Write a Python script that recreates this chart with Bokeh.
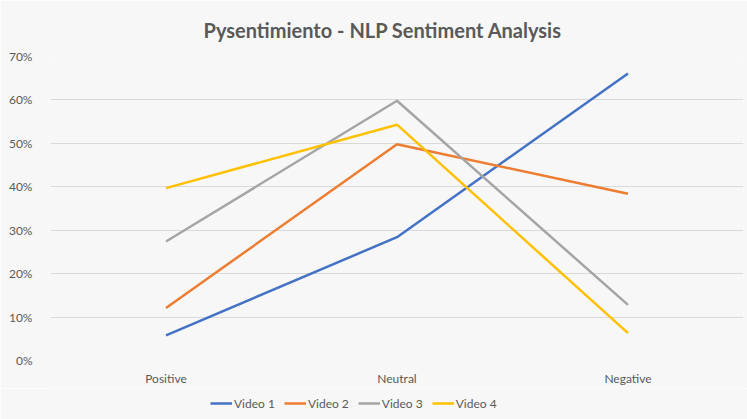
from bokeh.plotting import figure
from bokeh.layouts import column
from bokeh.models import Range1d, NumeralTickFormatter, FixedTicker, Legend, LegendItem, ColumnDataSource
from bokeh.embed import file_html
from bokeh.resources import INLINE

categories = ["Positive", "Neutral", "Negative"]
series_names = ["Video 1", "Video 2", "Video 3", "Video 4"]
video1 = [0.058, 0.284, 0.661]
video2 = [0.121, 0.498, 0.384]
video3 = [0.274, 0.598, 0.128]
video4 = [0.397, 0.543, 0.063]
y_ticks = [0, 0.1, 0.2, 0.3, 0.4, 0.5, 0.6, 0.7]

colors = ["#4472C4", "#ED7D31", "#A5A5A5", "#FFC000"]
font = "Lato"
bg = "#f7f7f7"

p = figure(x_range=categories, y_range=Range1d(0, 0.7),
           width=747, height=388,
           output_backend="svg", toolbar_location=None,
           title="Pysentimiento - NLP Sentiment Analysis")
p.background_fill_color = bg
p.border_fill_color = bg
p.outline_line_color = None
p.min_border_left = 50
p.min_border_right = 4
p.min_border_top = 56
p.min_border_bottom = 28

p.title.align = "left"
p.title.text_font = font
p.title.text_font_size = "20px"
p.title.text_font_style = "bold"
p.title.text_color = "#595959"
p.title.offset = 153
p.title.standoff = 29

# legend strip below the chart (its lines lie outside its visible y range)
p2 = figure(x_range=p.x_range, y_range=Range1d(5, 6), width=747, height=31,
            x_axis_location=None, y_axis_location=None,
            output_backend="svg", toolbar_location=None)
p2.background_fill_color = bg
p2.border_fill_color = bg
p2.outline_line_color = None
p2.min_border = 0
p2.grid.visible = False

items = []
for name, vals, c in zip(series_names, [video1, video2, video3, video4], colors):
    src = ColumnDataSource(dict(x=categories, y=vals))
    p.line("x", "y", source=src, line_color=c, line_width=2.5)
    key = p2.line("x", "y", source=src, line_color=c, line_width=2.5)
    items.append(LegendItem(label=name, renderers=[key]))

p.yaxis.ticker = FixedTicker(ticks=y_ticks)
p.yaxis.formatter = NumeralTickFormatter(format="0%")
for ax in [p.xaxis, p.yaxis]:
    ax.axis_line_color = None
    ax.major_tick_line_color = None
    ax.minor_tick_line_color = None
    ax.major_label_text_font = font
    ax.major_label_text_font_size = "12px"
    ax.major_label_text_color = "#595959"
p.yaxis.major_label_standoff = 12
p.xaxis.major_label_standoff = 4
p.xgrid.grid_line_color = None
p.ygrid.grid_line_color = "#d9d9d9"
p.ygrid.grid_line_width = 1

legend = Legend(items=items, orientation="horizontal", location=(160, 8))
legend.background_fill_alpha = 0
legend.border_line_color = None
legend.label_text_font = font
legend.label_text_font_size = "12px"
legend.label_text_color = "#595959"
legend.glyph_width = 22
legend.glyph_height = 16
legend.label_height = 16
legend.spacing = 9
legend.label_standoff = 2
legend.padding = 0
legend.margin = 0
p2.add_layout(legend, "center")

layout = column(p, p2, spacing=0)
open("out.html", "w").write(file_html(layout, INLINE))
